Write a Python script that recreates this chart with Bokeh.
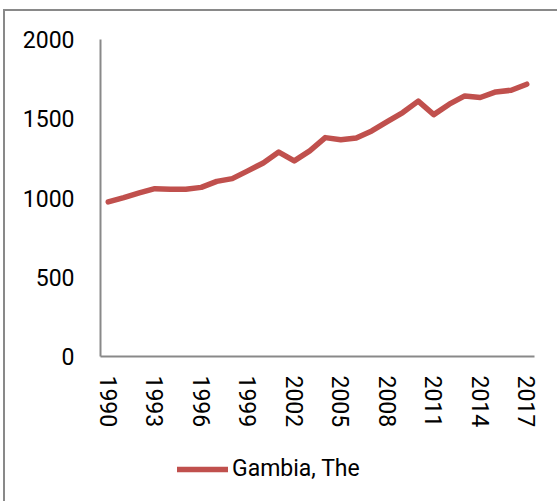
from bokeh.plotting import figure
from bokeh.models import FixedTicker, Legend, LegendItem, Range1d
from bokeh.layouts import column
from bokeh.embed import file_html
from bokeh.resources import INLINE

years = list(range(1990, 2018))
values = [975, 1002, 1032, 1059, 1055, 1055, 1067, 1105, 1122, 1171,
          1221, 1290, 1234, 1297, 1381, 1368, 1379, 1423, 1482, 1539,
          1611, 1526, 1592, 1644, 1634, 1669, 1680, 1718]
series_name = "Gambia, The"
x_ticks = list(range(1990, 2018, 3))
y_ticks = [0, 500, 1000, 1500, 2000]

FONT = "Roboto"
FS = "23px"
AXIS_COLOR = "#898989"
LINE_COLOR = "#C0504D"
W = 552

p = figure(width=W, height=440, output_backend="svg", toolbar_location=None,
           x_range=Range1d(1989.5, 2017.5), y_range=Range1d(0, 2000),
           min_border_left=95, min_border_right=23, min_border_top=28,
           min_border_bottom=95)

r = p.line(years, values, line_color=LINE_COLOR, line_width=5.5,
           line_cap="round", line_join="round")

p.outline_line_color = None
p.grid.visible = False
p.background_fill_color = "white"
p.border_fill_color = "white"

for ax in (p.xaxis[0], p.yaxis[0]):
    ax.axis_line_color = AXIS_COLOR
    ax.axis_line_width = 2
    ax.major_tick_line_color = None
    ax.minor_tick_line_color = None
    ax.major_label_text_font = FONT
    ax.major_label_text_font_size = FS
    ax.major_label_text_color = "black"

p.xaxis[0].ticker = FixedTicker(ticks=x_ticks)
p.xaxis[0].major_label_orientation = "vertical"
p.xaxis[0].major_label_standoff = 13
p.yaxis[0].ticker = FixedTicker(ticks=y_ticks)
p.yaxis[0].major_label_standoff = 20

# legend strip below the plot (the series is drawn outside its view,
# only its legend entry shows)
pl = figure(width=W, height=50, output_backend="svg", toolbar_location=None,
            x_range=Range1d(0, 1), y_range=Range1d(0, 1),
            x_axis_type=None, y_axis_type=None, min_border=0)
pl.outline_line_color = None
pl.grid.visible = False
pl.border_fill_color = "white"
lr = pl.line(years, values, line_color=LINE_COLOR, line_width=5.5,
             line_cap="round")

legend = Legend(items=[LegendItem(label=series_name, renderers=[lr])],
                location=(77, 19), orientation="horizontal",
                padding=0, margin=0, spacing=0,
                glyph_width=51, glyph_height=24, label_height=24,
                label_standoff=4,
                label_text_font=FONT, label_text_font_size=FS,
                label_text_color="black",
                border_line_color=None, background_fill_alpha=0)
pl.add_layout(legend, "center")

layout = column(p, pl, spacing=0)
layout.styles = {"margin-left": "3px", "margin-top": "9px",
                 "border-left": f"2px solid {AXIS_COLOR}",
                 "border-top": f"2px solid {AXIS_COLOR}"}

open("out.html", "w").write(file_html(layout, INLINE))
